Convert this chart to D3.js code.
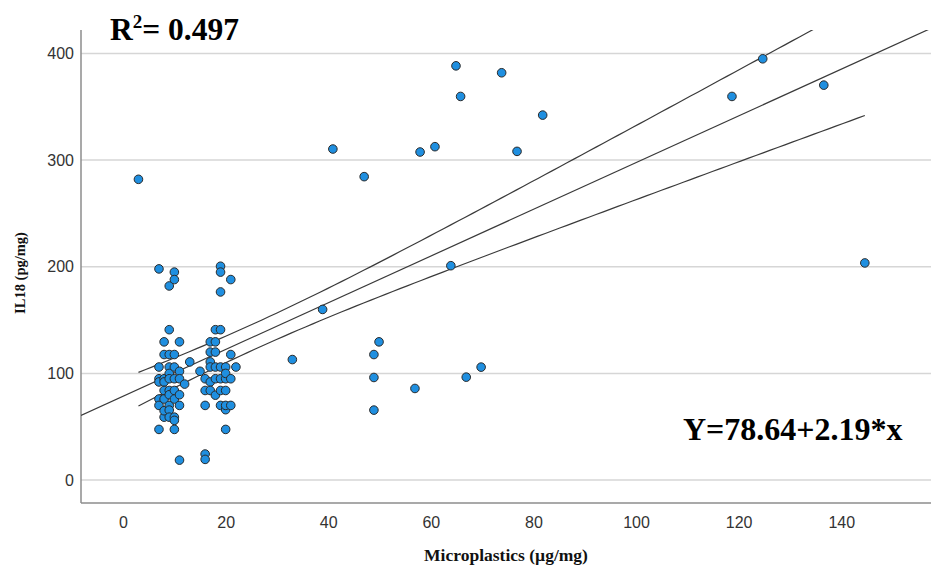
<!DOCTYPE html>
<html>
<head>
<meta charset="utf-8">
<script src="https://cdn.jsdelivr.net/npm/d3@7"></script>
<style>
  html, body { margin: 0; padding: 0; background: #fff; }
  svg { display: block; }
</style>
</head>
<body>
<svg id="chart" width="931" height="575"></svg>
<script>
// Microplastics (µg/mg) vs IL18 (pg/mg), one entry per sample
const microplastics = [
  // low-exposure cluster, around 7–15 µg/mg
  7, 7, 7, 7, 7, 7, 7,
  8, 8, 8, 8, 8, 8, 8, 8,
  9, 9, 9, 9, 9, 9, 9, 9, 9, 9, 9,
  10, 10, 10, 10, 10, 10, 10, 10, 10, 10,
  11, 11, 11, 11, 11, 11,
  12, 13, 15,
  // second cluster, around 16–22 µg/mg
  16, 16, 16, 16, 16,
  17, 17, 17, 17, 17, 17,
  18, 18, 18, 18, 18, 18,
  19, 19, 19, 19, 19, 19, 19, 19,
  20, 20, 20, 20, 20, 20, 20,
  21, 21, 21, 21,
  22,
  // scattered samples
  3, 33, 38.9, 40.9, 47, 48.9, 48.9, 48.9, 49.9, 56.9,
  57.9, 60.8, 63.9, 64.9, 65.8, 66.9, 69.8, 73.8, 76.8, 81.8,
  118.7, 124.7, 136.6, 144.6
];
const il18 = [
  198, 106, 95, 92, 76, 70, 47.5,
  129.6, 117.7, 95, 92, 84, 76, 59, 65,
  182, 141, 117.7, 106, 100, 95, 84, 80, 70, 65.6, 59,
  195, 188, 117.7, 106, 95, 84, 76, 59, 56, 47.5,
  129.6, 102, 95, 80, 70, 18.7,
  90, 110.8, 102,
  95, 84, 70, 24.4, 19.4,
  129.6, 120, 110.8, 106, 92, 84,
  141, 129.6, 120, 95, 79.6, 106,
  200.5, 195, 176.4, 141, 106, 95, 84, 70,
  106, 95, 84, 66, 70, 47.5, 100,
  188, 117.7, 95, 70,
  106,
  282, 113, 160, 310.4, 284.5, 117.7, 96.2, 65.6, 129.6, 85.9,
  307.6, 312.6, 201, 388.4, 359.7, 96.5, 105.9, 381.9, 308.2, 342.2,
  359.7, 395, 370.3, 203.6
];

// Linear fit as reported, and goodness of fit
const fitIntercept = 78.64;
const fitSlope = 2.19;
const rSquared = "0.497";
const tCrit = 1.98; // two-sided 95% t quantile for ~100 df

const xTicks = [0, 20, 40, 60, 80, 100, 120, 140];
const yTicks = [0, 100, 200, 300, 400];
const xLabel = "Microplastics (\u00b5g/mg)";
const yLabel = "IL18 (pg/mg)";

const plot = { left: 81, right: 931, top: 30, bottom: 503 };

const svg = d3.select("#chart");

const x = d3.scaleLinear().domain([-8.2, 157.5]).range([plot.left, plot.right]);
const y = d3.scaleLinear().domain([-21.5, 422]).range([plot.bottom, plot.top]);

// Grid lines
svg.append("g")
  .selectAll("line")
  .data(yTicks)
  .join("line")
  .attr("x1", plot.left).attr("x2", plot.right)
  .attr("y1", d => y(d)).attr("y2", d => y(d))
  .attr("stroke", "#d6d6d6")
  .attr("stroke-width", 1.5);

// Axes (labels only, no tick marks)
const xAxis = svg.append("g")
  .attr("transform", `translate(0,${plot.bottom})`)
  .call(d3.axisBottom(x).tickValues(xTicks).tickSize(0).tickPadding(14).tickFormat(d3.format("d")));
const yAxis = svg.append("g")
  .attr("transform", `translate(${plot.left},0)`)
  .call(d3.axisLeft(y).tickValues(yTicks).tickSize(0).tickPadding(7).tickFormat(d3.format("d")));

[xAxis, yAxis].forEach(ax => {
  ax.select(".domain").attr("stroke", "#8c8c8c").attr("stroke-width", 1.5);
  ax.selectAll("text")
    .attr("font-family", "'Liberation Sans', Arial, sans-serif")
    .attr("font-size", 16)
    .attr("fill", "#333");
});
yAxis.select(".domain").attr("d", `M0,${plot.top}V${plot.bottom}`);
xAxis.select(".domain").attr("d", `M${plot.left},0H${plot.right}`);

// Clip for lines running out of the plot area
svg.append("clipPath").attr("id", "plot-clip")
  .append("rect")
  .attr("x", plot.left).attr("y", plot.top)
  .attr("width", plot.right - plot.left).attr("height", plot.bottom - plot.top);

// Fitted line and 95% confidence band for the mean
const n = microplastics.length;
const fit = v => fitIntercept + fitSlope * v;
const xMean = d3.mean(microplastics);
const sxx = d3.sum(microplastics, v => (v - xMean) ** 2);
const sse = d3.sum(microplastics, (v, i) => (il18[i] - fit(v)) ** 2);
const se = Math.sqrt(sse / (n - 2));
const halfWidth = v => tCrit * se * Math.sqrt(1 / n + (v - xMean) ** 2 / sxx);

const [xMin, xMax] = d3.extent(microplastics);
const bandX = d3.range(0, 101).map(i => xMin + (xMax - xMin) * i / 100);

const lineGen = d3.line().x(d => x(d[0])).y(d => y(d[1]));
const lines = svg.append("g").attr("clip-path", "url(#plot-clip)")
  .attr("fill", "none").attr("stroke", "#3a3a3a").attr("stroke-width", 1.2);

lines.append("path")
  .attr("d", lineGen(x.domain().map(v => [v, fit(v)])));
lines.append("path")
  .attr("d", lineGen(bandX.map(v => [v, fit(v) + halfWidth(v)])));
lines.append("path")
  .attr("d", lineGen(bandX.map(v => [v, fit(v) - halfWidth(v)])));

// Sample points
svg.append("g")
  .selectAll("circle")
  .data(microplastics.map((v, i) => [v, il18[i]]))
  .join("circle")
  .attr("cx", d => x(d[0]))
  .attr("cy", d => y(d[1]))
  .attr("r", 4.3)
  .attr("fill", "#1f8fe0")
  .attr("stroke", "#2a2a2a")
  .attr("stroke-width", 1);

// Axis titles
const serif = "'Liberation Serif', 'Times New Roman', serif";
svg.append("text")
  .attr("x", 506).attr("y", 561)
  .attr("text-anchor", "middle")
  .attr("font-family", serif).attr("font-weight", "bold").attr("font-size", 17.5)
  .attr("fill", "#111")
  .text(xLabel);
svg.append("text")
  .attr("transform", "translate(25,273) rotate(-90)")
  .attr("text-anchor", "middle")
  .attr("font-family", serif).attr("font-weight", "bold").attr("font-size", 14.5)
  .attr("fill", "#111")
  .text(yLabel);

// R² annotation
const r2 = svg.append("text")
  .attr("x", 110).attr("y", 40)
  .attr("font-family", serif).attr("font-weight", "bold").attr("font-size", 31.5)
  .attr("fill", "#000");
r2.append("tspan").text("R");
r2.append("tspan").attr("font-size", 19).attr("dy", -12).text("2");
r2.append("tspan").attr("dy", 12).text("= " + rSquared);

// Fit equation
svg.append("text")
  .attr("x", 683).attr("y", 440)
  .attr("font-family", serif).attr("font-weight", "bold").attr("font-size", 32)
  .attr("fill", "#000")
  .text(`Y=${fitIntercept}+${fitSlope}*x`);
</script>
</body>
</html>
